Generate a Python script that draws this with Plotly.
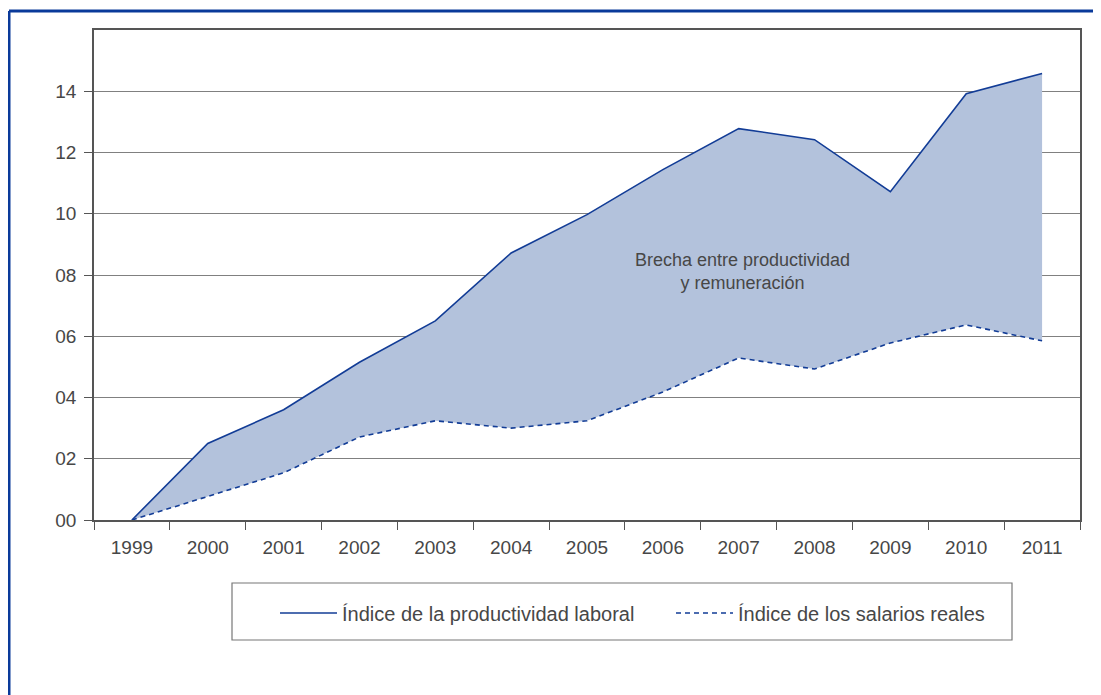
import plotly.graph_objects as go

years = ["1999", "2000", "2001", "2002", "2003", "2004", "2005", "2006",
         "2007", "2008", "2009", "2010", "2011"]
productividad = [0.0, 2.5, 3.6, 5.15, 6.5, 8.72, 9.97, 11.44, 12.78, 12.42, 10.72, 13.92, 14.58]
salarios = [0.0, 0.78, 1.54, 2.71, 3.24, 3.0, 3.24, 4.18, 5.29, 4.93, 5.78, 6.37, 5.85]
ytick_vals = [0, 2, 4, 6, 8, 10, 12, 14]
ytick_text = ["00", "02", "04", "06", "08", "10", "12", "14"]

LINE = "#123c96"
FILL = "#b3c2dc"
TXT = "#474747"
FONT = "Liberation Sans, Arial, sans-serif"

fig = go.Figure()
# shaded gap between the two series
fig.add_trace(go.Scatter(x=years, y=salarios, mode="lines", line=dict(width=0),
                         showlegend=False, hoverinfo="skip"))
fig.add_trace(go.Scatter(x=years, y=productividad, mode="lines", line=dict(width=0),
                         fill="tonexty", fillcolor=FILL, showlegend=False, hoverinfo="skip"))
# lines
fig.add_trace(go.Scatter(
    x=years, y=productividad, mode="lines", name="Índice de la productividad laboral",
    line=dict(color=LINE, width=1.6)))
fig.add_trace(go.Scatter(
    x=years, y=salarios, mode="lines", name="Índice de los salarios reales",
    line=dict(color=LINE, width=1.6, dash="5px,4px")))

fig.add_annotation(x=8.05, y=8.1, xref="x", yref="y",
                   text="Brecha entre productividad<br>y remuneración",
                   showarrow=False, font=dict(family=FONT, size=18, color=TXT),
                   align="center")

OFF = 8  # page body margin
L, R, T, B = 94 - OFF, 21, 30 - OFF, 175
W, H = 1101 - OFF, 695 - OFF
pw, ph = W - L - R, H - T - B
def px(x): return (x - OFF - L) / pw
def py(y): return (H + OFF - B - y) / ph

frame = "#0a3a9a"
fig.add_shape(type="line", xref="paper", yref="paper", x0=px(9), x1=px(1105),
              y0=py(11), y1=py(11), line=dict(color=frame, width=3))
fig.add_shape(type="line", xref="paper", yref="paper", x0=px(9), x1=px(9),
              y0=py(11), y1=py(700), line=dict(color=frame, width=3))
# legend box
fig.add_shape(type="rect", xref="paper", yref="paper", x0=px(232), x1=px(1012),
              y0=py(583), y1=py(640), line=dict(color="#777777", width=1.2))

fig.update_layout(
    width=W, height=H, margin=dict(l=L, r=R, t=T, b=B),
    paper_bgcolor="white", plot_bgcolor="white",
    font=dict(family=FONT, size=19, color=TXT),
    showlegend=True,
    legend=dict(orientation="h", x=px(275), y=py(613), xanchor="left", yanchor="middle",
                entrywidth=324, itemwidth=57, traceorder="normal",
                bgcolor="rgba(0,0,0,0)", borderwidth=0,
                font=dict(family=FONT, size=20, color=TXT)),
    xaxis=dict(type="category", tickson="boundaries", ticks="outside", ticklen=8,
               tickcolor="#555555", showline=True, linecolor="#555555", linewidth=1.5,
               mirror=True, showgrid=False, range=[-0.5, 12.5], ticklabelstandoff=9),
    yaxis=dict(range=[0, 16], tickvals=ytick_vals, ticktext=ytick_text,
               ticks="outside", ticklen=8, tickcolor="#555555",
               showline=True, linecolor="#555555", linewidth=1.5, mirror=True,
               showgrid=True, gridcolor="#808080", gridwidth=1, zeroline=False,
               ticklabelstandoff=4),
)

fig.write_html("out.html")
